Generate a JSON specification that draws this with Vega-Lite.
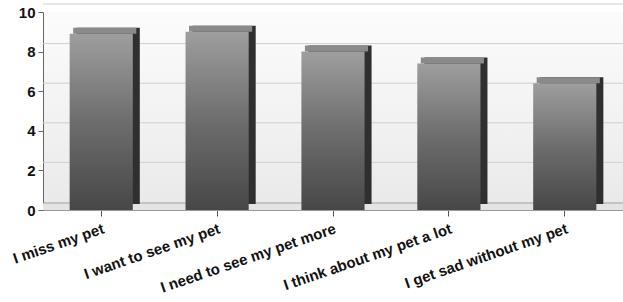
{
  "$schema": "https://vega.github.io/schema/vega-lite/v6.json",
  "autosize": "none",
  "width": 580,
  "height": 198,
  "padding": {"left": 43, "top": 12, "right": 0, "bottom": 92},
  "background": "white",
  "config": {
    "font": "Liberation Sans",
    "view": {"stroke": null, "fill": {"gradient": "linear", "x1": 0, "y1": 0, "x2": 0, "y2": 1, "stops": [{"offset": 0, "color": "#fcfcfc"}, {"offset": 1, "color": "#e9e9e9"}]}}
  },
  "datasets": {
    "bars": [
      {"statement": "I miss my pet", "score": 8.9},
      {"statement": "I want to see my pet", "score": 9.0},
      {"statement": "I need to see my pet more", "score": 8.0},
      {"statement": "I think about my pet a lot", "score": 7.4},
      {"statement": "I get sad without my pet", "score": 6.4}
    ],
    "grid": [{"score": 2}, {"score": 4}, {"score": 6}, {"score": 8}, {"score": 10}],
    "floor": [{"score": 0}]
  },
  "encoding": {
    "y": {"field": "score", "type": "quantitative", "scale": {"domain": [0, 10], "nice": false}, "axis": {"title": null, "values": [0, 2, 4, 6, 8, 10], "grid": false, "labelFontSize": 15, "labelFontWeight": "bold", "labelColor": "#111", "domainColor": "#666", "tickColor": "#666", "tickSize": 5, "labelPadding": 3, "labelOverlap": false, "labelFlush": false}}
  },
  "layer": [
    {
      "data": {"name": "floor"},
      "mark": {"type": "rule", "strokeWidth": 7, "yOffset": -3.5, "color": "#e4e4e4"}
    },
    {
      "data": {"name": "grid"},
      "mark": {"type": "rule", "strokeWidth": 1, "yOffset": -8, "xOffset": 8, "color": "#cfcfcf"}
    },
    {
      "data": {"name": "floor"},
      "mark": {"type": "rule", "strokeWidth": 1, "yOffset": -7, "xOffset": 7, "color": "#a0a0a0"}
    },
    {
      "data": {"name": "bars"},
      "mark": {"type": "bar", "color": "#2f2f2f", "xOffset": 7, "yOffset": -6, "y2Offset": -6},
      "encoding": {
        "x": {"field": "statement", "type": "nominal", "sort": null}
      }
    },
    {
      "data": {"name": "bars"},
      "mark": {"type": "bar", "color": "#8a8a8a", "xOffset": 3.5, "yOffset": -6, "y2Offset": 0},
      "encoding": {
        "x": {"field": "statement", "type": "nominal", "sort": null},
        "y2": {"field": "score"}
      }
    },
    {
      "data": {"name": "bars"},
      "mark": {
        "type": "bar",
        "color": {"gradient": "linear", "x1": 0, "y1": 0, "x2": 0, "y2": 1, "stops": [{"offset": 0, "color": "#9e9e9e"}, {"offset": 0.5, "color": "#6d6d6d"}, {"offset": 1, "color": "#474747"}]}
      },
      "encoding": {
        "x": {
          "field": "statement", "type": "nominal", "sort": null,
          "scale": {"paddingInner": 0.455, "paddingOuter": 0.23},
          "axis": {"title": null, "labelAngle": -19, "labelAlign": "right", "labelBaseline": "top", "labelFontSize": 15, "labelFontWeight": "bold", "labelColor": "#111", "labelLimit": 400, "domainColor": "#999", "tickColor": "#555", "tickSize": 6, "labelPadding": 5, "labelOverlap": false, "labelBound": false}
        }
      }
    }
  ]
}
